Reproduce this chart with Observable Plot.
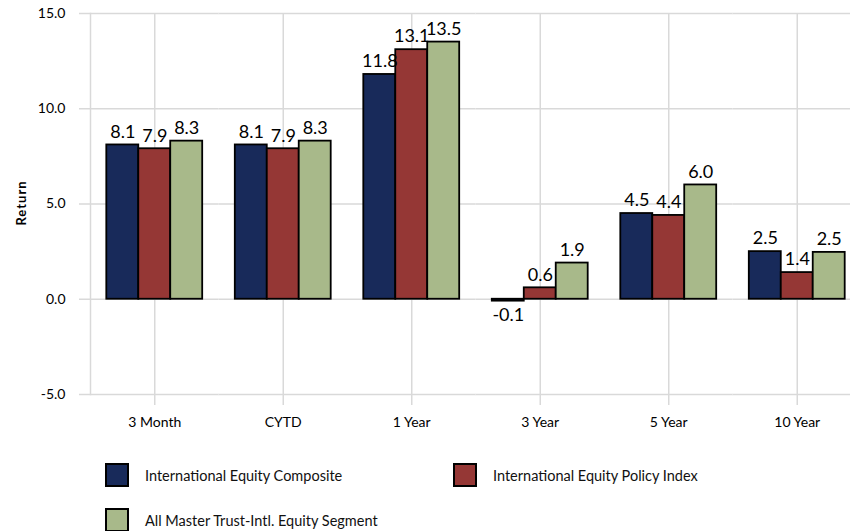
<!DOCTYPE html>
<html>
<head>
<meta charset="utf-8">
<script src="https://cdn.jsdelivr.net/npm/d3@7"></script>
<script src="https://cdn.jsdelivr.net/npm/@observablehq/plot@0.6"></script>
<style>
  html, body { margin: 0; padding: 0; background: #fff; overflow: hidden; }
  body { width: 850px; height: 531px; position: relative; font-family: Lato, "Open Sans", sans-serif; }
  #chart { position: absolute; left: 0; top: 0; }
  #ylabel { position: absolute; left: 21px; top: 203px; transform: translate(-50%, -50%) rotate(-90deg); font-weight: bold; font-size: 13px; letter-spacing: 1px; white-space: nowrap; color: #000; }
  .legend-item { position: absolute; display: flex; align-items: center; font-size: 14.5px; color: #111; white-space: nowrap; }
  .legend-item .sw { width: 20px; height: 20px; border: 2px solid #000; margin-right: 16px; }
</style>
</head>
<body>
<div id="chart"></div>
<div id="ylabel">Return</div>
<div id="legend"></div>
<script>
const categories = ["3 Month", "CYTD", "1 Year", "3 Year", "5 Year", "10 Year"];
const series = ["International Equity Composite", "International Equity Policy Index", "All Master Trust-Intl. Equity Segment"];
const composite = [8.1, 8.1, 11.8, -0.1, 4.5, 2.5];
const policyIndex = [7.9, 7.9, 13.1, 0.6, 4.4, 1.4];
const segment = [8.3, 8.3, 13.5, 1.9, 6.0, 2.46];
const colors = ["#182A5A", "#953735", "#A8B98A"];
const yTicks = [-5, 0, 5, 10, 15];

const values = [composite, policyIndex, segment];
const rows = categories.flatMap((c, i) => series.map((s, j) => ({category: c, series: s, value: values[j][i]})));
const grid = "#d9d9d9";

const chart = Plot.plot({
  width: 850,
  height: 440,
  marginLeft: 90,
  marginRight: -11,
  marginTop: 13,
  marginBottom: 46,
  style: {fontFamily: "Lato, 'Open Sans', sans-serif", fontSize: "14px", color: "#000", background: "#fff"},
  fx: {domain: categories, padding: 0, round: false, label: null},
  x: {domain: series, paddingInner: 0, paddingOuter: 0.51, round: false, axis: null},
  y: {domain: [-5, 15], label: null},
  color: {domain: series, range: colors},
  marks: [
    Plot.gridY({ticks: yTicks, stroke: grid, strokeOpacity: 1, strokeWidth: 1.5}),
    Plot.gridFx({stroke: grid, strokeOpacity: 1, strokeWidth: 1.5}),
    Plot.frame({anchor: "left", facetAnchor: "left", stroke: grid, strokeWidth: 1.5}),
    Plot.axisY({ticks: yTicks, tickSize: 11, tickPadding: 14, tickFormat: d => d.toFixed(1), stroke: grid, strokeOpacity: 1, strokeWidth: 1.5, fill: "#000", label: null, fontSize: 14}),
    Plot.axisFx({anchor: "bottom", tickSize: 11, tickPadding: 12, stroke: grid, strokeOpacity: 1, strokeWidth: 1.5, fill: "#000", label: null, fontSize: 14}),
    Plot.barY(rows, {fx: "category", x: "series", y: "value", fill: "series", stroke: "#000", strokeWidth: 1.8}),
    Plot.text(rows.filter(d => d.value >= 0), {fx: "category", x: "series", y: "value", text: d => d.value.toFixed(1), dy: -13, fontSize: 18, fill: "#000"}),
    Plot.text(rows.filter(d => d.value < 0), {fx: "category", x: "series", y: "value", text: d => d.value.toFixed(1), dy: 14, fontSize: 18, fill: "#000"})
  ]
});
document.getElementById("chart").appendChild(chart);

const legendPos = [{left: 105, top: 463}, {left: 453, top: 463}, {left: 105, top: 508}];
const legend = document.getElementById("legend");
series.forEach((s, i) => {
  const item = document.createElement("div");
  item.className = "legend-item";
  item.style.left = legendPos[i].left + "px";
  item.style.top = legendPos[i].top + "px";
  const sw = document.createElement("div");
  sw.className = "sw";
  sw.style.background = colors[i];
  const label = document.createElement("span");
  label.textContent = s;
  item.appendChild(sw);
  item.appendChild(label);
  legend.appendChild(item);
});
</script>
</body>
</html>
